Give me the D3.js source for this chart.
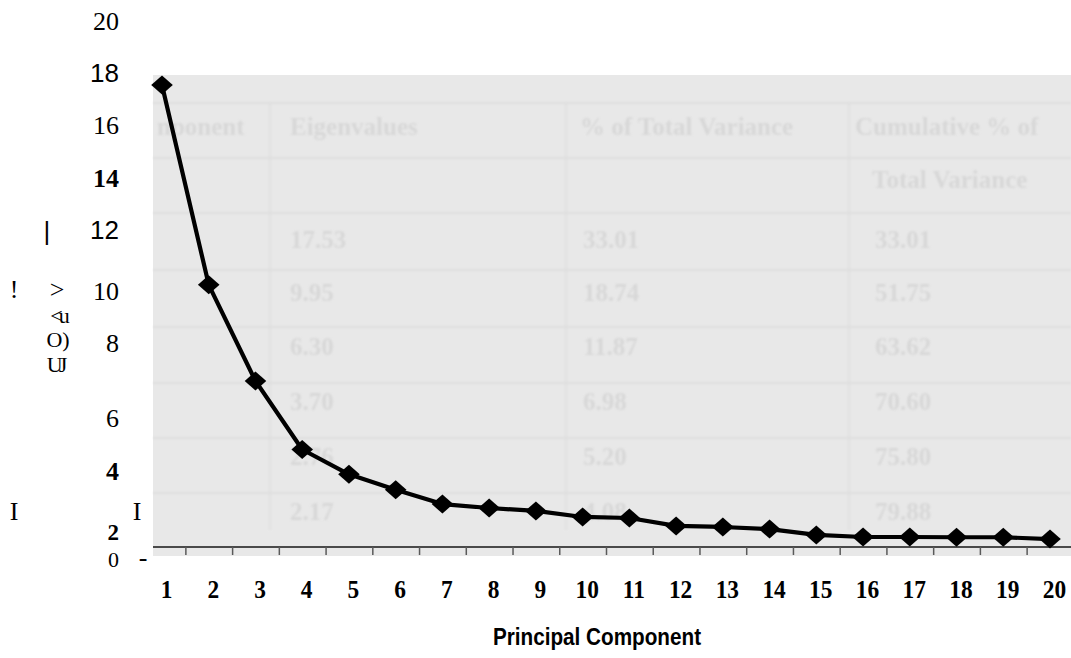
<!DOCTYPE html>
<html>
<head>
<meta charset="utf-8">
<script src="https://cdn.jsdelivr.net/npm/d3@7"></script>
<style>
  html, body { margin: 0; padding: 0; background: #ffffff; }
  svg { display: block; }
</style>
</head>
<body>
<svg id="chart" width="1071" height="658"></svg>
<script>
// Scree plot: eigenvalue of each principal component
const components = [1, 2, 3, 4, 5, 6, 7, 8, 9, 10, 11, 12, 13, 14, 15, 16, 17, 18, 19, 20];
const eigenvalues = [17.53, 9.95, 6.30, 3.70, 2.76, 2.17, 1.63, 1.48, 1.37, 1.14,
                     1.10, 0.80, 0.76, 0.68, 0.46, 0.38, 0.38, 0.37, 0.37, 0.30];
const yTickValues = [0, 2, 4, 6, 8, 10, 12, 14, 16, 18, 20];
const xAxisTitle = "Principal Component";

// Faint table printed underneath the plot panel
const tableHeaders = ["nponent", "Eigenvalues", "% of Total Variance", "Cumulative % of", "Total Variance"];
const pctVariance = ["33.01", "18.74", "11.87", "6.98", "5.20", "4.08"];
const cumVariance = ["33.01", "51.75", "63.62", "70.60", "75.80", "79.88"];

// Stray glyphs of the vertical axis caption
const captionGlyphs = ["|", "!", ">", "I", "I", "-"];
const captionStack = ["<u", "O)", "UJ"];

const svg = d3.select("#chart");
const panel = { x0: 153, y0: 75, x1: 1071, y1: 556 };
const baseY = 547;

const SERIF = "'Liberation Serif', 'Times New Roman', serif";
const SANS = "'Liberation Sans', Arial, sans-serif";

const x = d3.scaleLinear().domain([1, 20]).range([162, 1050]);
const y = d3.scaleLinear().domain([0, 20]).range([baseY, 20]);

const defs = svg.append("defs");
defs.append("filter").attr("id", "soft")
  .append("feGaussianBlur").attr("stdDeviation", 1.3);

// grey scanned panel
svg.append("rect")
  .attr("x", panel.x0).attr("y", panel.y0)
  .attr("width", panel.x1 - panel.x0).attr("height", panel.y1 - panel.y0)
  .attr("fill", "#e8e8e8");

// faint table rules and text beneath the curve
const ghost = svg.append("g").attr("filter", "url(#soft)").attr("opacity", 0.75);
const ruleRows = [103, 158, 213, 270, 327, 383, 438, 493];
ghost.selectAll("line.row").data(ruleRows).join("line")
  .attr("x1", panel.x0).attr("x2", panel.x1)
  .attr("y1", d => d).attr("y2", d => d)
  .attr("stroke", "#d6d6d6").attr("stroke-width", 1.5);
const ruleCols = [270, 566, 849];
ghost.selectAll("line.col").data(ruleCols).join("line")
  .attr("x1", d => d).attr("x2", d => d)
  .attr("y1", panel.y0 + 28).attr("y2", 530)
  .attr("stroke", "#dadada").attr("stroke-width", 1.5);

const headerPos = [[157, 135], [290, 135], [580, 135], [855, 135], [872, 188]];
ghost.selectAll("text.hdr").data(tableHeaders).join("text")
  .attr("x", (d, i) => headerPos[i][0]).attr("y", (d, i) => headerPos[i][1])
  .attr("font-family", SERIF).attr("font-size", 25).attr("font-weight", "bold")
  .attr("fill", "#d2d2d2")
  .text(d => d);
const rowY = [248, 301, 355, 410, 465, 520];
const ghostRows = rowY.map((ry, i) => ({ ry, ev: d3.format(".2f")(eigenvalues[i]), pct: pctVariance[i], cum: cumVariance[i] }));
const gr = ghost.selectAll("g.row").data(ghostRows).join("g")
  .attr("font-family", SERIF).attr("font-size", 25).attr("font-weight", "bold").attr("fill", "#d2d2d2");
gr.append("text").attr("x", 290).attr("y", d => d.ry).text(d => d.ev);
gr.append("text").attr("x", 583).attr("y", d => d.ry).text(d => d.pct);
gr.append("text").attr("x", 875).attr("y", d => d.ry).text(d => d.cum);

// x axis baseline and ticks between the components
svg.append("line")
  .attr("x1", panel.x0).attr("x2", panel.x1)
  .attr("y1", baseY).attr("y2", baseY)
  .attr("stroke", "#4a4a4a").attr("stroke-width", 2);

const between = components.slice(0, -1).map(c => c + 0.5);
const xTicks = svg.append("g")
  .attr("transform", `translate(0,${baseY})`)
  .call(d3.axisBottom(x).tickValues(between).tickSize(8).tickFormat(""));
xTicks.select(".domain").remove();
xTicks.selectAll(".tick line").attr("stroke", "#5a5a5a").attr("stroke-width", 1.5);

// component numbers, in a tall narrow bold face
const xLabels = svg.append("g")
  .attr("transform", `translate(4,${baseY})`)
  .call(d3.axisBottom(x).tickValues(components).tickSize(0).tickPadding(33).tickFormat(d3.format("d")));
xLabels.select(".domain").remove();
xLabels.selectAll(".tick text")
  .attr("font-family", SERIF).attr("font-size", 26).attr("font-weight", "bold")
  .attr("transform", "scale(0.9,1)")
  .attr("fill", "#000");

// eigenvalue tick labels, each set in its own face as printed
const tickFace = { 20: "serif", 18: "sans", 16: "serif", 14: "serifBold", 12: "sans", 10: "serif",
                   8: "serif", 6: "serif", 4: "serifBold", 2: "serifBold", 0: "serif" };
const tickNudge = { 20: 1, 18: 0, 16: 0, 14: 0, 12: -1, 10: 7.5, 8: 6.5, 6: 29, 4: 29.5, 2: 38, 0: 12 };
const tickSize = { 2: 23, 0: 22 };
const yAxis = svg.append("g")
  .attr("transform", "translate(119,0)")
  .call(d3.axisLeft(y).tickValues(yTickValues).tickSize(0).tickPadding(0).tickFormat(d3.format("d")));
yAxis.select(".domain").remove();
yAxis.selectAll(".tick text")
  .attr("y", d => tickNudge[d])
  .attr("font-family", d => tickFace[d] === "sans" ? SANS : SERIF)
  .attr("font-weight", d => tickFace[d] === "serifBold" ? "bold" : "normal")
  .attr("font-size", d => tickSize[d] || 26)
  .attr("fill", "#000");

// remnants of the rotated axis caption
const glyphPos = [[47, 240], [14, 298], [57, 298], [14, 520], [137, 520], [143, 566]];
svg.append("g").selectAll("text").data(captionGlyphs).join("text")
  .attr("x", (d, i) => glyphPos[i][0]).attr("y", (d, i) => glyphPos[i][1])
  .attr("text-anchor", "middle")
  .attr("font-family", (d, i) => i === 0 ? SANS : SERIF)
  .attr("font-size", 26)
  .attr("fill", "#000")
  .text(d => d);

const stackPos = [[58, 323], [58, 347], [55, 372]];
svg.append("g").selectAll("text").data(captionStack).join("text")
  .attr("x", (d, i) => stackPos[i][0]).attr("y", (d, i) => stackPos[i][1])
  .attr("text-anchor", "middle")
  .attr("font-family", SERIF).attr("font-size", 22)
  .attr("letter-spacing", (d, i) => i === 1 ? 0 : -4)
  .attr("fill", "#000")
  .text(d => d);

// scree line and markers
const points = components.map((c, i) => ({ c, v: eigenvalues[i] }));
svg.append("path")
  .datum(points)
  .attr("fill", "none")
  .attr("stroke", "#000")
  .attr("stroke-width", 4.2)
  .attr("stroke-linejoin", "round")
  .attr("d", d3.line().x(d => x(d.c)).y(d => y(d.v)));

svg.append("g").selectAll("path").data(points).join("path")
  .attr("d", d3.symbol(d3.symbolSquare, 200)())
  .attr("transform", d => `translate(${x(d.c)},${y(d.v)}) scale(1.08,0.95) rotate(45)`)
  .attr("fill", "#000");

// axis title
svg.append("text")
  .attr("x", 597).attr("y", 645)
  .attr("text-anchor", "middle")
  .attr("font-family", SANS).attr("font-size", 23).attr("font-weight", "bold")
  .attr("transform", "translate(597,0) scale(0.9,1) translate(-597,0)")
  .attr("fill", "#000")
  .text(xAxisTitle);
</script>
</body>
</html>
